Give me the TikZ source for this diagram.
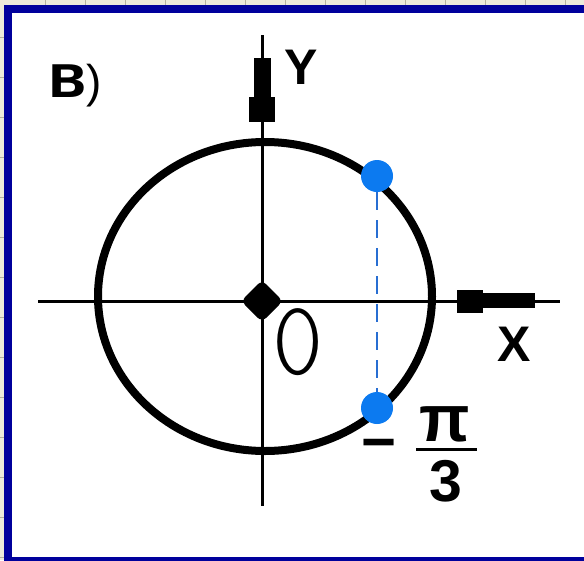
\documentclass[tikz,border=0pt]{standalone}
\usepackage{fontspec}
\setmainfont{Liberation Sans}
\newfontfamily\thinfont{lmmonolt10-regular.otf}
\definecolor{frameblue}{RGB}{0,0,156}
\definecolor{ptblue}{RGB}{12,122,240}
\definecolor{dashblue}{RGB}{40,110,210}
\definecolor{strip}{RGB}{236,234,218}
\definecolor{stripline}{RGB}{180,178,160}
\begin{document}
\begin{tikzpicture}[x=1pt,y=-1pt,
  lbl/.style={inner sep=0pt, font=\fontsize{50}{50}\selectfont\bfseries},
  dot/.style={circle, fill=ptblue, minimum size=32pt, inner sep=0pt},
  axis/.style={line width=3pt, black},
  dashline/.style={dashblue, line width=2.5pt, dash pattern=on 18pt off 10pt}]
\useasboundingbox (0,0) rectangle (584,560);
\clip (0,0) rectangle (584,560);
% page background and frame
\fill[strip] (0,0) rectangle (584,560);
\foreach \x in {45,85,...,565} \draw[stripline, line width=1pt] (\x,0) -- (\x,6);
\foreach \y in {37,77,...,557} \draw[stripline, line width=1pt] (0,\y) -- (5,\y);
\fill[white] (8,9) rectangle (600,580);
\draw[frameblue, line width=8pt] (8,9) rectangle (600,561);
% axes
\coordinate (O) at (262,301);
\draw[axis] (38,301) -- (560,301);
\draw[axis] (262,35) -- (262,506);
\fill (457,290) rectangle (483,313);
\fill (483,293) rectangle (535,308);
\fill (249,97) rectangle (275,122);
\fill (254,58) rectangle (271,97);
% circle
\draw[line width=8pt] (265,296.5) ellipse [x radius=167, y radius=154.5];
% origin
\fill[rounded corners=6pt] (262,280) -- (283,301) -- (262,322) -- (241,301) -- cycle;
% points
\node[dot] (p1) at (377,176) {};
\node[dot] (p2) at (377,408) {};
\draw[dashline] (p1) -- (p2);
% labels
\node[inner sep=0pt, anchor=base west] (lab) at (48,97)
  {\fontsize{62}{62}\selectfont\bfseries в\fontsize{46}{46}\selectfont\mdseries)};
\node[lbl] (Y) at (301,67) {Y};
\node[lbl] (X) at (514,344) {X};
\node[inner sep=0pt, font=\thinfont\fontsize{106}{106}\selectfont, xscale=0.92] (zero) at (298,342) {0};
\node[inner sep=0pt, font=\fontsize{60}{60}\selectfont\bfseries] (minus) at (379,451) {−};
\node[inner sep=0pt, font=\fontsize{66}{66}\selectfont\bfseries] (pi) at (445,424) {π};
\node[inner sep=0pt, font=\fontsize{59}{59}\selectfont\bfseries] (three) at (446,481) {3};
\coordinate (barL) at (416,449);
\coordinate (barR) at (477,449);
\draw[line width=3pt] (barL) -- (barR);
\end{tikzpicture}
\end{document}
